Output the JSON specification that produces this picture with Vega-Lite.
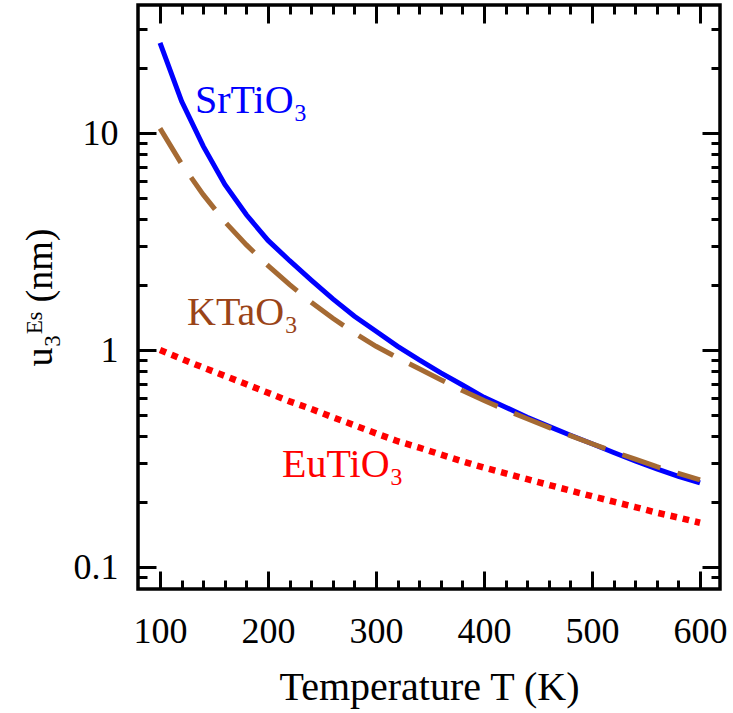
{
  "$schema": "https://vega.github.io/schema/vega-lite/v6.json",
  "width": 582,
  "height": 584,
  "autosize": {"type": "none"},
  "padding": {"left": 138, "top": 5, "right": 13, "bottom": 124},
  "background": "white",
  "config": {
    "view": {"stroke": "black", "strokeWidth": 3.5},
    "font": "Liberation Serif",
    "axis": {
      "domain": false,
      "grid": false,
      "labelFont": "Liberation Serif",
      "titleFont": "Liberation Serif",
      "labelColor": "black",
      "titleColor": "black",
      "tickColor": "black",
      "tickWidth": 3,
      "titleFontWeight": "normal"
    }
  },
  "datasets": {
    "curves": [
      {"s": "SrTiO3", "T": 100, "u": 26.0}, {"s": "SrTiO3", "T": 120, "u": 14.0}, {"s": "SrTiO3", "T": 140, "u": 8.7},
      {"s": "SrTiO3", "T": 160, "u": 5.8}, {"s": "SrTiO3", "T": 180, "u": 4.2}, {"s": "SrTiO3", "T": 200, "u": 3.2},
      {"s": "SrTiO3", "T": 220, "u": 2.58}, {"s": "SrTiO3", "T": 240, "u": 2.1}, {"s": "SrTiO3", "T": 260, "u": 1.72},
      {"s": "SrTiO3", "T": 280, "u": 1.43}, {"s": "SrTiO3", "T": 300, "u": 1.22}, {"s": "SrTiO3", "T": 320, "u": 1.04},
      {"s": "SrTiO3", "T": 340, "u": 0.9}, {"s": "SrTiO3", "T": 360, "u": 0.785}, {"s": "SrTiO3", "T": 380, "u": 0.69},
      {"s": "SrTiO3", "T": 400, "u": 0.605}, {"s": "SrTiO3", "T": 420, "u": 0.545}, {"s": "SrTiO3", "T": 440, "u": 0.49},
      {"s": "SrTiO3", "T": 460, "u": 0.445}, {"s": "SrTiO3", "T": 480, "u": 0.405}, {"s": "SrTiO3", "T": 500, "u": 0.37},
      {"s": "SrTiO3", "T": 520, "u": 0.337}, {"s": "SrTiO3", "T": 540, "u": 0.308}, {"s": "SrTiO3", "T": 560, "u": 0.283},
      {"s": "SrTiO3", "T": 580, "u": 0.262}, {"s": "SrTiO3", "T": 600, "u": 0.244},
      {"s": "KTaO3", "T": 100, "u": 10.5}, {"s": "KTaO3", "T": 120, "u": 7.2}, {"s": "KTaO3", "T": 140, "u": 5.2},
      {"s": "KTaO3", "T": 160, "u": 3.9}, {"s": "KTaO3", "T": 180, "u": 3.05}, {"s": "KTaO3", "T": 200, "u": 2.45},
      {"s": "KTaO3", "T": 220, "u": 2.0}, {"s": "KTaO3", "T": 240, "u": 1.66}, {"s": "KTaO3", "T": 260, "u": 1.4},
      {"s": "KTaO3", "T": 280, "u": 1.2}, {"s": "KTaO3", "T": 300, "u": 1.04}, {"s": "KTaO3", "T": 320, "u": 0.92},
      {"s": "KTaO3", "T": 340, "u": 0.82}, {"s": "KTaO3", "T": 360, "u": 0.73}, {"s": "KTaO3", "T": 380, "u": 0.65},
      {"s": "KTaO3", "T": 400, "u": 0.585}, {"s": "KTaO3", "T": 420, "u": 0.53}, {"s": "KTaO3", "T": 440, "u": 0.482},
      {"s": "KTaO3", "T": 460, "u": 0.44}, {"s": "KTaO3", "T": 480, "u": 0.403}, {"s": "KTaO3", "T": 500, "u": 0.37},
      {"s": "KTaO3", "T": 520, "u": 0.34}, {"s": "KTaO3", "T": 540, "u": 0.314}, {"s": "KTaO3", "T": 560, "u": 0.29},
      {"s": "KTaO3", "T": 580, "u": 0.27}, {"s": "KTaO3", "T": 600, "u": 0.252},
      {"s": "EuTiO3", "T": 100, "u": 1.0}, {"s": "EuTiO3", "T": 120, "u": 0.91}, {"s": "EuTiO3", "T": 140, "u": 0.83},
      {"s": "EuTiO3", "T": 160, "u": 0.76}, {"s": "EuTiO3", "T": 180, "u": 0.695}, {"s": "EuTiO3", "T": 200, "u": 0.635},
      {"s": "EuTiO3", "T": 220, "u": 0.58}, {"s": "EuTiO3", "T": 240, "u": 0.535}, {"s": "EuTiO3", "T": 260, "u": 0.49},
      {"s": "EuTiO3", "T": 280, "u": 0.45}, {"s": "EuTiO3", "T": 300, "u": 0.413}, {"s": "EuTiO3", "T": 320, "u": 0.38},
      {"s": "EuTiO3", "T": 340, "u": 0.355}, {"s": "EuTiO3", "T": 360, "u": 0.33}, {"s": "EuTiO3", "T": 380, "u": 0.307},
      {"s": "EuTiO3", "T": 400, "u": 0.287}, {"s": "EuTiO3", "T": 420, "u": 0.27}, {"s": "EuTiO3", "T": 440, "u": 0.254},
      {"s": "EuTiO3", "T": 460, "u": 0.239}, {"s": "EuTiO3", "T": 480, "u": 0.225}, {"s": "EuTiO3", "T": 500, "u": 0.212},
      {"s": "EuTiO3", "T": 520, "u": 0.2}, {"s": "EuTiO3", "T": 540, "u": 0.189}, {"s": "EuTiO3", "T": 560, "u": 0.178},
      {"s": "EuTiO3", "T": 580, "u": 0.169}, {"s": "EuTiO3", "T": 600, "u": 0.16}
    ],
    "labels": [
      {"s": "SrTiO3", "label": "SrTiO₃", "T": 132.4, "u": 12.37},
      {"s": "KTaO3", "label": "KTaO₃", "T": 125, "u": 1.3},
      {"s": "EuTiO3", "label": "EuTiO₃", "T": 213, "u": 0.26}
    ]
  },
  "layer": [
    {
      "data": {"name": "curves"},
      "transform": [{"filter": "datum.s === 'SrTiO3'"}],
      "mark": {"type": "line", "color": "#0000FF", "strokeWidth": 5},
      "encoding": {
        "x": {"field": "T", "type": "quantitative", "scale": {"domain": [79.6, 618.5], "nice": false, "zero": false},
          "axis": {"orient": "bottom", "values": [100, 200, 300, 400, 500, 600], "format": "d", "ticks": false, "labelFontSize": 36, "labelPadding": 25, "title": "Temperature T (K)", "titleFontSize": 40, "titlePadding": 18}},
        "y": {"field": "u", "type": "quantitative", "scale": {"type": "log", "domain": [0.0792, 38.9], "nice": false},
          "axis": {"orient": "left", "values": [0.1, 1, 10], "format": "~g", "ticks": false, "labelFontSize": 36, "labelPadding": 20, "title": "u₃ᴱˢ   (nm)", "titleFontSize": 38, "titlePadding": 14}}
      }
    },
    {
      "data": {"name": "curves"},
      "transform": [{"filter": "datum.s === 'KTaO3'"}],
      "mark": {"type": "line", "color": "#A56A33", "strokeWidth": 5, "strokeDash": [40, 18]},
      "encoding": {
        "x": {"field": "T", "type": "quantitative", "scale": {"domain": [79.6, 618.5], "nice": false, "zero": false},
          "axis": {"orient": "bottom", "values": [100, 200, 300, 400, 500, 600], "labels": false, "tickSize": -18, "title": null}},
        "y": {"field": "u", "type": "quantitative", "scale": {"type": "log", "domain": [0.0792, 38.9], "nice": false},
          "axis": {"orient": "left", "values": [0.1, 1, 10], "labels": false, "tickSize": -18, "title": null}}
      }
    },
    {
      "data": {"name": "curves"},
      "transform": [{"filter": "datum.s === 'EuTiO3'"}],
      "mark": {"type": "line", "color": "#FF0000", "strokeWidth": 6.5, "strokeDash": [6.5, 6]},
      "encoding": {
        "x": {"field": "T", "type": "quantitative", "scale": {"domain": [79.6, 618.5], "nice": false, "zero": false},
          "axis": {"orient": "bottom", "values": [120, 140, 160, 180, 220, 240, 260, 280, 320, 340, 360, 380, 420, 440, 460, 480, 520, 540, 560, 580], "labels": false, "tickSize": -9, "title": null}},
        "y": {"field": "u", "type": "quantitative", "scale": {"type": "log", "domain": [0.0792, 38.9], "nice": false},
          "axis": {"orient": "left", "values": [0.09, 0.2, 0.3, 0.4, 0.5, 0.6, 0.7, 0.8, 0.9, 2, 3, 4, 5, 6, 7, 8, 9, 20, 30], "labels": false, "tickSize": -9, "title": null}}
      }
    },
    {
      "data": {"name": "labels"},
      "transform": [{"filter": "datum.s === 'SrTiO3'"}],
      "mark": {"type": "text", "color": "#0000FF", "fontSize": 40, "align": "left", "baseline": "alphabetic", "font": "Liberation Serif"},
      "encoding": {
        "text": {"field": "label"},
        "x": {"field": "T", "type": "quantitative", "scale": {"domain": [79.6, 618.5], "nice": false, "zero": false},
          "axis": {"orient": "top", "values": [100, 200, 300, 400, 500, 600], "labels": false, "tickSize": -18, "title": null}},
        "y": {"field": "u", "type": "quantitative", "scale": {"type": "log", "domain": [0.0792, 38.9], "nice": false},
          "axis": {"orient": "right", "values": [0.1, 1, 10], "labels": false, "tickSize": -18, "title": null}}
      }
    },
    {
      "data": {"name": "labels"},
      "transform": [{"filter": "datum.s === 'KTaO3'"}],
      "mark": {"type": "text", "color": "#9A4418", "fontSize": 40, "align": "left", "baseline": "alphabetic", "font": "Liberation Serif"},
      "encoding": {
        "text": {"field": "label"},
        "x": {"field": "T", "type": "quantitative", "scale": {"domain": [79.6, 618.5], "nice": false, "zero": false},
          "axis": {"orient": "top", "values": [120, 140, 160, 180, 220, 240, 260, 280, 320, 340, 360, 380, 420, 440, 460, 480, 520, 540, 560, 580], "labels": false, "tickSize": -9, "title": null}},
        "y": {"field": "u", "type": "quantitative", "scale": {"type": "log", "domain": [0.0792, 38.9], "nice": false},
          "axis": {"orient": "right", "values": [0.09, 0.2, 0.3, 0.4, 0.5, 0.6, 0.7, 0.8, 0.9, 2, 3, 4, 5, 6, 7, 8, 9, 20, 30], "labels": false, "tickSize": -9, "title": null}}
      }
    },
    {
      "data": {"name": "labels"},
      "transform": [{"filter": "datum.s === 'EuTiO3'"}],
      "mark": {"type": "text", "color": "#FF0000", "fontSize": 40, "align": "left", "baseline": "alphabetic", "font": "Liberation Serif"},
      "encoding": {
        "text": {"field": "label"},
        "x": {"field": "T", "type": "quantitative", "scale": {"domain": [79.6, 618.5], "nice": false, "zero": false}, "axis": null},
        "y": {"field": "u", "type": "quantitative", "scale": {"type": "log", "domain": [0.0792, 38.9], "nice": false}, "axis": null}
      }
    }
  ],
  "resolve": {"axis": {"x": "independent", "y": "independent"}}
}
